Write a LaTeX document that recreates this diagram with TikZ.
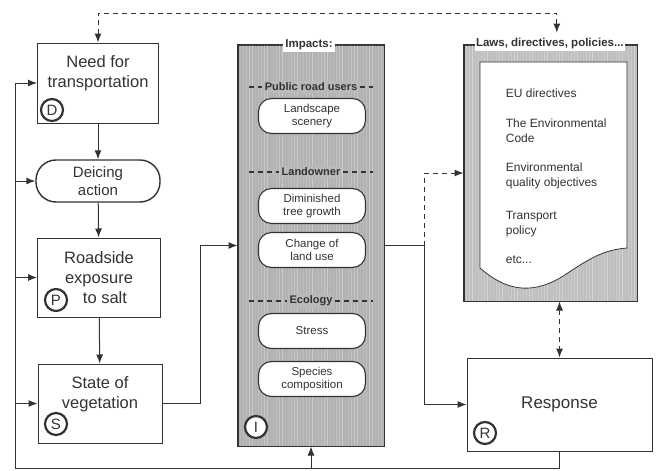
\documentclass[tikz,border=0pt]{standalone}
\usepackage{fontspec}
\setmainfont{Liberation Sans}
\usetikzlibrary{arrows.meta}

\begin{document}
\begin{tikzpicture}[x=1pt, y=-1pt, >={Latex[length=9pt,width=7pt]}, line width=1pt,
  color=black!80,
  dpsr/.style={draw, line width=1pt, minimum width=122pt, minimum height=80pt,
    align=center, font=\fontsize{16.5}{20}\selectfont},
  boxtext/.style={align=center, font=\fontsize{16.5}{20}\selectfont},
  letter/.style={draw, circle, line width=2.2pt, inner sep=0pt, minimum size=22pt,
    font=\fontsize{15}{15}\selectfont},
  effect/.style={draw, fill=white, line width=1.1pt, rounded corners=13pt,
    minimum width=107pt, minimum height=35pt, align=center,
    font=\fontsize{11.5}{13}\selectfont},
  group/.style={fill=gray!55, inner sep=2pt, font=\bfseries\fontsize{11}{13}\selectfont},
  lawtext/.style={anchor=west, align=left, font=\fontsize{12}{15}\selectfont},
  dashedline/.style={dash pattern=on 5pt off 4pt},
]
\useasboundingbox (0,0) rectangle (659,471);

% left column: D, deicing, P, S
\node[dpsr, minimum width=121pt] (D) at (98,83) {};
\node[boxtext] (Dtext) at (98,73) {Need for\\transportation};
\node[letter] (cD) at (52,110) {D};
\node[dpsr, minimum width=124pt, minimum height=42pt, rounded corners=20pt, line width=1.4pt,
      font=\fontsize{15}{18}\selectfont] (deice) at (98,181) {Deicing\\action};
\node[dpsr, minimum width=123pt, minimum height=79pt] (P) at (99,277.5)
      {Roadside\\exposure\\\hspace*{12pt}to salt};
\node[letter] (cP) at (56,300) {P};
\node[dpsr, minimum width=124pt, minimum height=79pt] (S) at (100,403.5) {};
\node[boxtext] (Stext) at (100,394) {State of\\vegetation};
\node[letter] (cS) at (56,424) {S};

\draw[->] (D) -- (deice);
\draw[->] (deice) -- (P);
\draw[->] (P) -- (S);

% impacts panel
\node[draw, fill=gray!60, minimum width=146pt, minimum height=401pt] (I) at (311,245.5) {};
\begin{scope}
  \clip (I.south west) rectangle (I.north east);
  \foreach \x in {240,243,...,383} {
    \pgfmathsetmacro{\op}{0.08+mod(\x*7,5)/16}
    \draw[white, opacity=\op, line width=0.8pt] (\x,45) -- (\x,446);
  }
\end{scope}
\draw (I.south west) rectangle (I.north east);
\node[fill=white, inner sep=2pt, font=\bfseries\fontsize{11.5}{13}\selectfont] (Ititle) at (309,45) {Impacts:};
\node[group] (users) at (311,87) {Public road users};
\node[group] (owner) at (311,172) {Landowner};
\node[group] (eco) at (311,301) {Ecology};
\foreach \g in {users,owner,eco} {
  \draw[dashedline, line width=1.2pt] (249,0 |- \g.west) -- (\g.west);
  \draw[dashedline, line width=1.2pt] (\g.east) -- (373,0 |- \g.east);
}
\node[effect] (scenery) at (312,116) {Landscape\\scenery};
\node[effect] (growth) at (312,206) {Diminished\\tree growth};
\node[effect] (landuse) at (312,250) {Change of\\land use};
\node[effect] (stress) at (312,331) {Stress};
\node[effect] (species) at (312,379) {Species\\composition};
\node[letter, fill=white] (cI) at (256,427) {I};

% laws, directives, policies
\node[draw, fill=gray!50, minimum width=173pt, minimum height=256pt] (L) at (550.5,173) {};
\begin{scope}
  \clip (L.south west) rectangle (L.north east);
  \foreach \x in {466,469,...,636} {
    \pgfmathsetmacro{\op}{0.08+mod(\x*7,5)/16}
    \draw[white, opacity=\op, line width=0.8pt] (\x,45) -- (\x,301);
  }
\end{scope}
\draw (L.south west) rectangle (L.north east);
\draw[fill=white, line width=0.8pt] (480,62) -- (627,62) -- (627,248)
  .. controls (600,250) and (585,262) .. (560,278)
  .. controls (530,295) and (505,290) .. (480,268) -- cycle;
\node[fill=white, inner sep=1.5pt, anchor=west, font=\bfseries\fontsize{11.5}{13}\selectfont]
  (Ltitle) at (474,44) {Laws, directives, policies...};
\node[lawtext] (law1) at (502,93) {EU directives};
\node[lawtext] (law2) at (502,131) {The Environmental\\Code};
\node[lawtext] (law3) at (502,176) {Environmental\\quality objectives};
\node[lawtext] (law4) at (502,224) {Transport\\policy};
\node[lawtext] (law5) at (502,260) {etc...};

% response
\node[dpsr, minimum width=185pt, minimum height=93pt, font=\fontsize{17}{20}\selectfont]
  (R) at (559.5,404.5) {Response};
\node[letter] (cR) at (485,433) {R};

% flows between the blocks
\draw[->] (S.east) -- ++(38,0) |- (I.west);
\draw[->] (I.east) -- ++(40,0) coordinate (split) |- (R.west);
\draw[->, dashedline] (split) |- (L.west);
\draw[<->, dashedline] (R.north |- L.south) -- (R.north);
\draw[<->, dashedline] (D.north) |- ([xshift=7pt]Ltitle.north |- 0,13)
  -- ([xshift=7pt, yshift=4pt]Ltitle.north);

% feedback from the response to every driver
\coordinate (botL) at (15,468);
\draw (R.south) |- (botL) -- (botL |- D);
\foreach \b in {D,deice,P,S}
  \draw[->] (botL |- \b) -- (\b);
\draw[->] (I.south |- botL) -- (I.south);
\end{tikzpicture}
\end{document}
